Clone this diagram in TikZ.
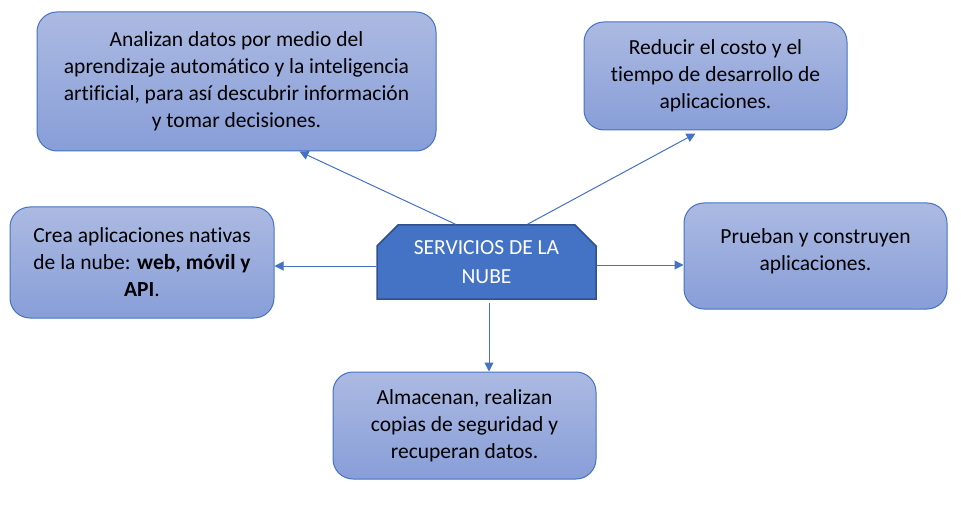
\documentclass[tikz,border=0pt]{standalone}
\usepackage{fontspec}
\setmainfont{Carlito}[Ligatures=NoCommon]
\usetikzlibrary{arrows.meta,shapes.misc}
\definecolor{azul}{RGB}{68,114,196}
\definecolor{azuloscuro}{RGB}{47,82,143}
\definecolor{cajaarriba}{RGB}{172,186,226}
\definecolor{cajaabajo}{RGB}{136,158,216}
\begin{document}
\begin{tikzpicture}[x=1pt,y=-1pt,
	every node/.style={font=\fontsize{21.5}{27}\selectfont, align=center},
	caja/.style={draw=azul, line width=1pt, rounded corners=20pt,
		top color=cajaarriba, bottom color=cajaabajo, inner sep=0pt},
	flecha/.style={draw=azul, line width=1pt, -{Triangle[length=9pt,width=9pt]}}]
	\useasboundingbox (0,0) rectangle (961,505);
	% central node
	\node[chamfered rectangle, chamfered rectangle corners={north west,north east},
		chamfered rectangle xsep=8pt, chamfered rectangle ysep=13pt,
		draw=azuloscuro, line width=1.5pt, fill=azul, text=white, inner sep=0pt,
		font=\fontsize{21.5}{29}\selectfont,
		minimum width=219pt, minimum height=74pt] (servicios) at (486.5,262) {SERVICIOS DE LA\\NUBE};
	% the five boxes
	\node[caja, minimum width=399pt, minimum height=139pt] (analiza) at (236.5,81.5)
		{Analizan datos por medio del\\aprendizaje automático y la inteligencia\\artificial, para así descubrir información\\y tomar decisiones.};
	\node[caja, minimum width=263pt, minimum height=108pt] (reduce) at (715.5,76)
		{Reducir el costo y el\\tiempo de desarrollo de\\aplicaciones.};
	\node[caja, minimum width=264pt, minimum height=111pt] (crea) at (142,262.5)
		{Crea aplicaciones nativas\\de la nube: \textbf{web, móvil y}\\\textbf{API}.};
	\node[caja, minimum width=263pt, minimum height=106pt, text depth=12pt] (prueba) at (815.5,256)
		{Prueban y construyen\\aplicaciones.};
	\node[caja, minimum width=263pt, minimum height=107pt] (almacena) at (464.5,425.5)
		{Almacenan, realizan\\copias de seguridad y\\recuperan datos.};
	% connectors
	\draw[flecha] ([xshift=-31pt]servicios.north) -- ([xshift=63pt]analiza.south);
	\draw[flecha] ([xshift=41pt]servicios.north) -- ([xshift=-20pt,yshift=-3pt]reduce.south);
	\draw[flecha] ([yshift=-4pt]servicios.west) -- ([yshift=-4pt]servicios.west -| crea.east);
	\draw[flecha] ([yshift=-3pt]servicios.east) -- ([yshift=-3pt]servicios.east -| prueba.west);
	\draw[flecha, shorten <=3pt] ([xshift=2.5pt]servicios.south) -- ([xshift=2.5pt]servicios.south |- almacena.north);
\end{tikzpicture}
\end{document}
